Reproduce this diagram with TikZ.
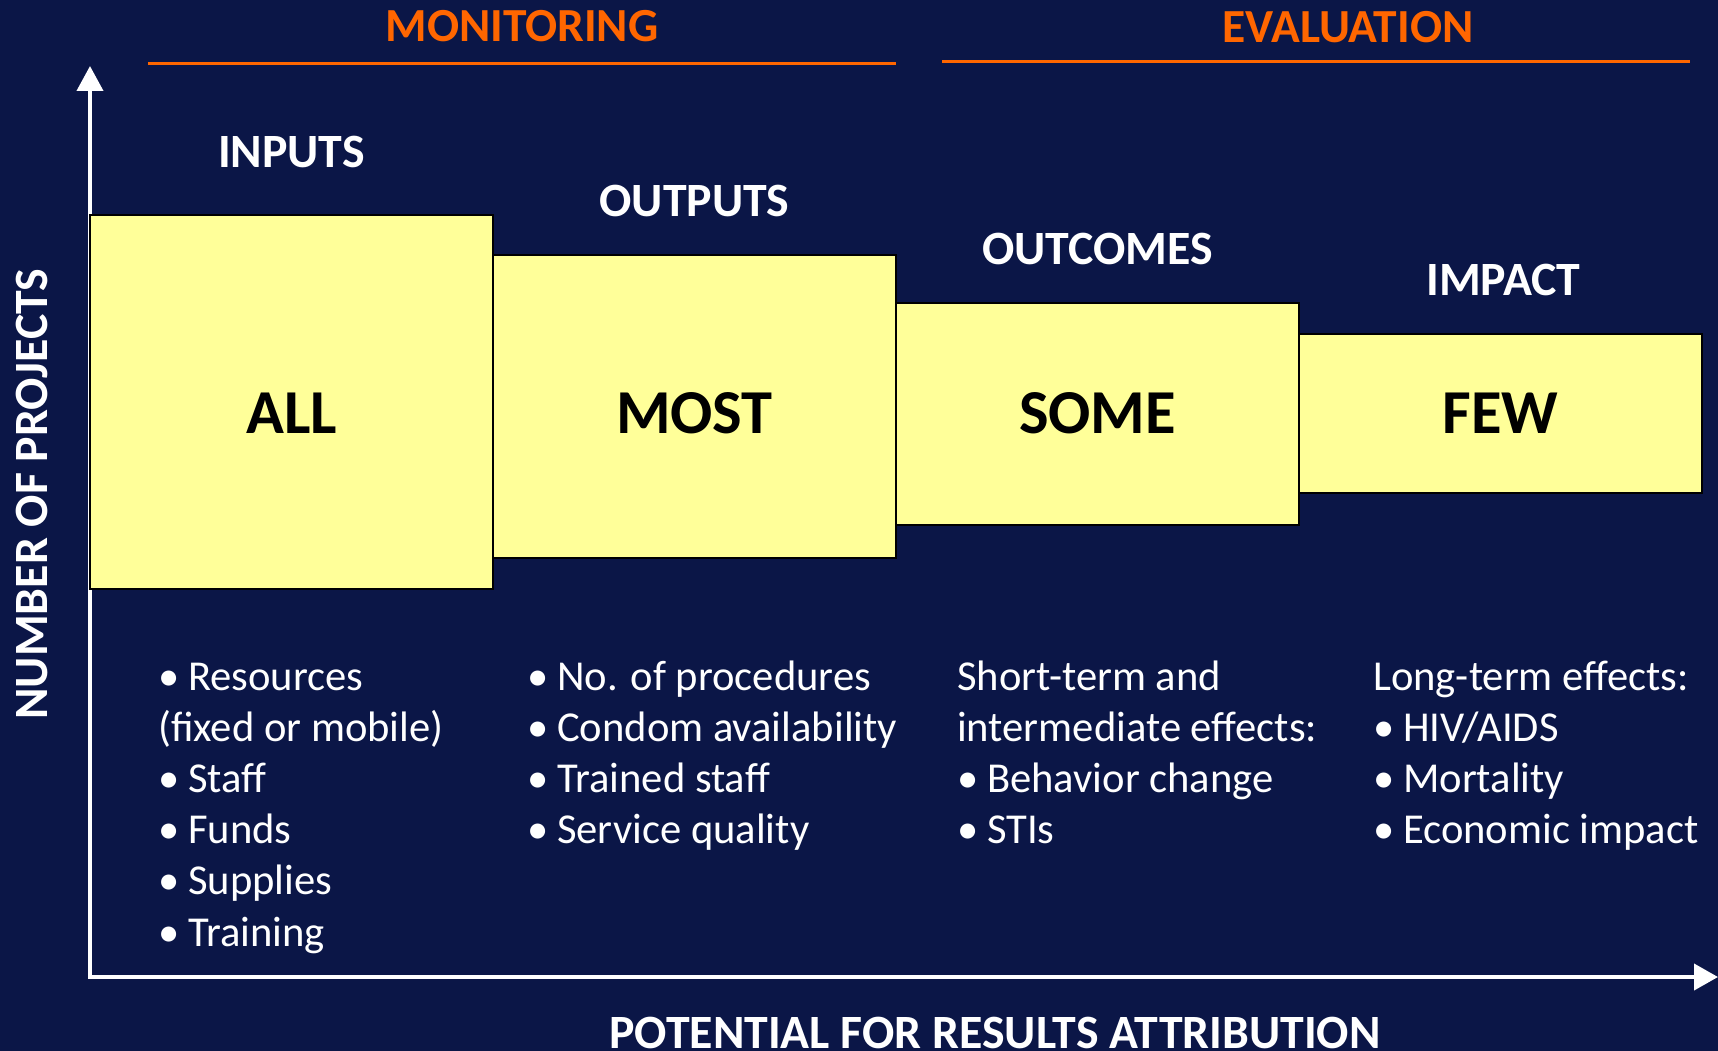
\documentclass[tikz,border=0pt]{standalone}
\usepackage{fontspec}
\setmainfont{Carlito}
\usetikzlibrary{arrows.meta}
\definecolor{navy}{HTML}{0B1647}
\definecolor{mango}{HTML}{FF6600}
\definecolor{pale}{HTML}{FFFF99}
\tikzset{
  stagebox/.style={draw=black, line width=2.5pt, fill=pale, inner sep=0pt, outer sep=0pt, anchor=north west, minimum width=403pt},
  head/.style={text=white, font=\bfseries\fontsize{47.8}{56}\selectfont, inner sep=0pt, anchor=base},
  phase/.style={text=mango, font=\bfseries\fontsize{47.5}{56}\selectfont, inner sep=0pt, anchor=base},
  big/.style={text=black, font=\bfseries\fontsize{62.5}{70}\selectfont, inner sep=0pt, anchor=base},
  col/.style={text=white, inner sep=0pt, anchor=base west},
  axisline/.style={white, line width=4pt, line join=miter, {Triangle[length=25pt,width=26pt]}-{Triangle[length=24pt,width=26pt]}},
  rule/.style={mango, line width=3pt}
}
\newcommand{\bul}{\makebox[30pt][l]{\textbullet}}
\newcommand{\colbox}[1]{\parbox[t]{520pt}{\fontsize{42.6}{51.2}\selectfont\raggedright #1}}
\begin{document}
\begin{tikzpicture}[x=1pt,y=-1pt]
\useasboundingbox (0,0) rectangle (1718,1051);
\clip (0,0) rectangle (1718,1051);
\fill[navy] (0,0) rectangle (1718,1051);

% phase headings and rules
\node[phase] (mon) at (522,42) {MONITORING};
\node[phase] (eva) at (1348,43) {EVALUATION};
\coordinate (m1) at (148,64);
\coordinate (m2) at (896,64);
\coordinate (e1) at (942,62);
\coordinate (e2) at (1690,62);
\draw[rule] (m1) -- (m2);
\draw[rule] (e1) -- (e2);

% axes
\coordinate (ytip) at (90,66);
\coordinate (origin) at (90,977);
\coordinate (xtip) at (1718,977);
\draw[axisline] (ytip) -- (origin) -- (xtip);

% boxes
\node[stagebox, minimum height=374pt] (b1) at (90,215) {};
\node[stagebox, minimum height=303pt] (b2) at (493,255) {};
\node[stagebox, minimum height=222pt] (b3) at (896,303) {};
\node[stagebox, minimum height=159pt] (b4) at (1299,334) {};

% stage headings
\node[head] (h1) at (b1.north |- 0,168) {INPUTS};
\node[head] (h2) at (b2.north |- 0,216) {OUTPUTS};
\node[head] (h3) at (b3.north |- 0,264) {OUTCOMES};
\node[head] (h4) at ([xshift=3pt]b4.north |- 0,295) {IMPACT};

% big labels
\node[big] (l1) at (b1.north |- 0,433) {ALL};
\node[big] (l2) at (b2.north |- 0,433) {MOST};
\node[big] (l3) at (b3.north |- 0,433) {SOME};
\node[big] (l4) at (b4.north |- 0,433) {FEW};

% lists
\node[col] (c1) at (158,690) {\colbox{\bul Resources\\(fixed or mobile)\\\bul Staff\\\bul Funds\\\bul Supplies\\\bul Training}};
\node[col] (c2) at (527,690) {\colbox{\bul No. of procedures\\\bul Condom availability\\\bul Trained staff\\\bul Service quality}};
\node[col] (c3) at (957,690) {\colbox{Short-term and\\intermediate effects:\\\bul Behavior change\\\bul STIs}};
\node[col] (c4) at (1373,690) {\colbox{Long-term effects:\\\bul HIV/AIDS\\\bul Mortality\\\bul Economic impact}};

% axis labels
\node[head, rotate=90] (ylab) at (47,494) {NUMBER OF PROJECTS};
\node[head] (xlab) at (995,1048) {POTENTIAL FOR RESULTS ATTRIBUTION};
\end{tikzpicture}
\end{document}
